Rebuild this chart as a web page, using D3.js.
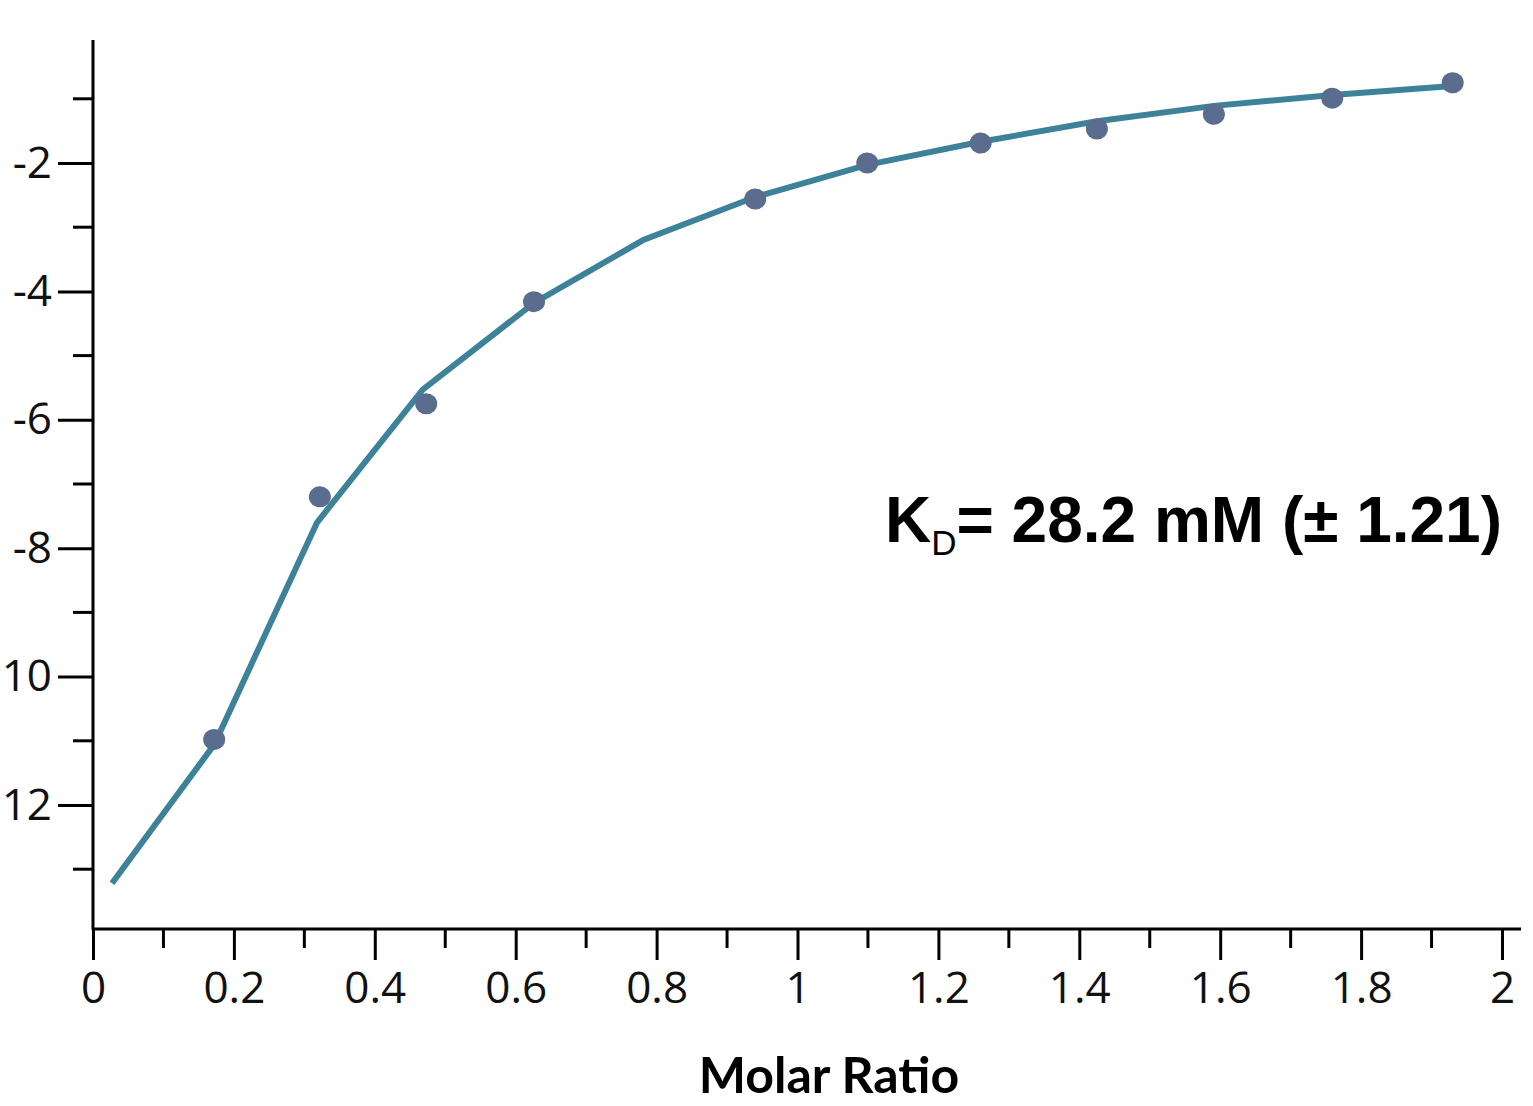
<!DOCTYPE html>
<html>
<head>
<meta charset="utf-8">
<title>Molar Ratio</title>
<script src="https://cdn.jsdelivr.net/npm/d3@7"></script>
<style>
  body { margin: 0; background: #fff; }
  svg { display: block; }
</style>
</head>
<body>
<svg id="chart"></svg>
<script>
// measured points (molar ratio, kcal)
var dotX = [0.172, 0.322, 0.473, 0.626, 0.94, 1.099, 1.26, 1.425, 1.591, 1.759, 1.93];
var dotY = [-10.98, -7.20, -5.75, -4.16, -2.56, -2.0, -1.69, -1.47, -1.24, -0.99, -0.75];

// fitted curve
var fitX = [0.027, 0.172, 0.318, 0.468, 0.626, 0.781, 0.94, 1.099, 1.26, 1.425, 1.591, 1.759, 1.93];
var fitY = [-13.22, -11.06, -7.60, -5.53, -4.18, -3.20, -2.53, -2.03, -1.67, -1.35, -1.11, -0.94, -0.80];

var xMajor = [0, 0.2, 0.4, 0.6, 0.8, 1, 1.2, 1.4, 1.6, 1.8, 2];
var xMinor = [0.1, 0.3, 0.5, 0.7, 0.9, 1.1, 1.3, 1.5, 1.7, 1.9];
var yMajor = [-2, -4, -6, -8, -10, -12];
var yMinor = [-1, -3, -5, -7, -9, -11, -13];
// the minus of the two-digit labels is cut off in the original figure
var yLabels = ["-2", "-4", "-6", "-8", "10", "12"];

var width = 1533, height = 1106;
var svg = d3.select("#chart").attr("width", width).attr("height", height);

var x = d3.scaleLinear().domain([0, 2]).range([93, 1502]);
var y = d3.scaleLinear().domain([-2, -12]).range([163, 805]);

var axisX0 = 93, axisY0 = 929;

// x axis
var gx = svg.append("g").attr("transform", "translate(0," + axisY0 + ")");
gx.call(d3.axisBottom(x).tickValues(xMajor).tickSize(31).tickPadding(12)
      .tickFormat(function(d) { return d; }))
  .call(function(g) { g.select(".domain").remove(); });
gx.append("line").attr("x1", axisX0).attr("x2", 1521).attr("stroke", "#000").attr("stroke-width", 3);
gx.selectAll(".minor").data(xMinor).enter().append("line")
  .attr("x1", function(d) { return x(d); }).attr("x2", function(d) { return x(d); })
  .attr("y2", 19).attr("stroke", "#000").attr("stroke-width", 3);

// y axis
var gy = svg.append("g").attr("transform", "translate(" + axisX0 + ",0)");
gy.call(d3.axisLeft(y).tickValues(yMajor).tickSize(35).tickPadding(6)
      .tickFormat(function(d, i) { return yLabels[i]; }))
  .call(function(g) { g.select(".domain").remove(); });
gy.append("line").attr("y1", 40).attr("y2", axisY0 + 1).attr("stroke", "#000").attr("stroke-width", 3);
gy.selectAll(".minor").data(yMinor).enter().append("line")
  .attr("y1", function(d) { return y(d); }).attr("y2", function(d) { return y(d); })
  .attr("x2", -20).attr("stroke", "#000").attr("stroke-width", 3);

svg.selectAll(".tick line").attr("stroke", "#000").attr("stroke-width", 3);
svg.selectAll(".tick text")
  .attr("fill", "#111")
  .style("font-family", "'Open Sans', 'Noto Sans', sans-serif")
  .style("font-size", "44px");

// fitted line
var line = d3.line()
  .x(function(d) { return x(d[0]); })
  .y(function(d) { return y(d[1]); });

svg.append("path")
  .datum(d3.zip(fitX, fitY))
  .attr("d", line)
  .attr("fill", "none")
  .attr("stroke", "#3e8299")
  .attr("stroke-width", 6);

// data points
svg.selectAll(".dot")
  .data(d3.zip(dotX, dotY))
  .enter().append("ellipse")
  .attr("class", "dot")
  .attr("cx", function(d) { return x(d[0]); })
  .attr("cy", function(d) { return y(d[1]); })
  .attr("rx", 11).attr("ry", 10.5)
  .attr("fill", "#5a6d8e");

// KD annotation
var kd = svg.append("text")
  .attr("x", 1502).attr("y", 542)
  .attr("text-anchor", "end")
  .style("font-family", "'Liberation Sans', Arial, sans-serif")
  .style("font-weight", "bold")
  .style("font-size", "64px")
  .attr("fill", "#000");
kd.append("tspan").text("K");
kd.append("tspan").attr("dy", 13).style("font-size", "35px").style("font-weight", "normal").text("D");
kd.append("tspan").attr("dy", -13).text("= 28.2 mM (\u00b1 1.21)");

// x label
svg.append("text")
  .attr("x", 829).attr("y", 1093)
  .attr("text-anchor", "middle")
  .style("font-family", "Lato, 'Open Sans', sans-serif")
  .style("font-weight", "bold")
  .style("font-size", "50px")
  .attr("fill", "#000")
  .text("Molar Ratio");
</script>
</body>
</html>
